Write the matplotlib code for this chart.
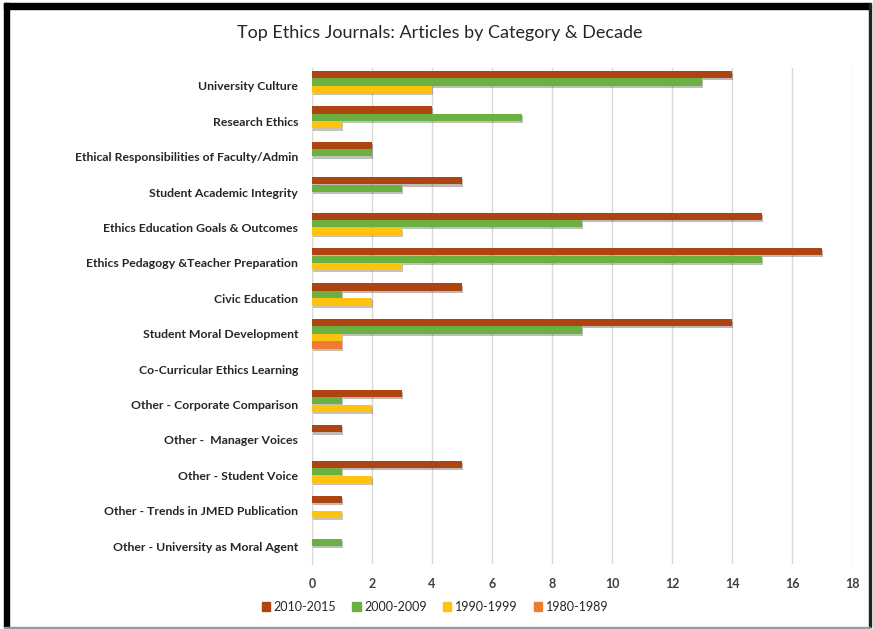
import numpy as np
import matplotlib
matplotlib.use("Agg")
import matplotlib.pyplot as plt
import matplotlib.patheffects as pe
from matplotlib.patches import Rectangle, Patch

plt.rcParams['font.family'] = ['Lato', 'DejaVu Sans']

categories = [
    "University Culture",
    "Research Ethics",
    "Ethical Responsibilities of Faculty/Admin",
    "Student Academic Integrity",
    "Ethics Education Goals & Outcomes",
    "Ethics Pedagogy &Teacher Preparation",
    "Civic Education",
    "Student Moral Development",
    "Co-Curricular Ethics Learning",
    "Other - Corporate Comparison",
    "Other -  Manager Voices",
    "Other - Student Voice",
    "Other - Trends in JMED Publication",
    "Other - University as Moral Agent",
]
series_names = ["2010-2015", "2000-2009", "1990-1999", "1980-1989"]
s2010 = [14, 4, 2, 5, 15, 17, 5, 14, 0, 3, 1, 5, 1, 0]
s2000 = [13, 7, 2, 3, 9, 15, 1, 9, 0, 1, 0, 1, 0, 1]
s1990 = [4, 1, 0, 0, 3, 3, 2, 1, 0, 2, 0, 2, 1, 0]
s1980 = [0, 0, 0, 0, 0, 0, 0, 1, 0, 0, 0, 0, 0, 0]
x_ticks = [0, 2, 4, 6, 8, 10, 12, 14, 16, 18]

colors = ["#AE4510", "#6DB042", "#FFC20E", "#F07C32"]

fig = plt.figure(figsize=(8.73, 6.29), dpi=100)
fig.patch.set_facecolor("white")

# picture frame (thick black top/left, thin right/bottom)
fig.add_artist(Rectangle((4 / 873, 1 - 9 / 629), 866 / 873, 6 / 629,
                         transform=fig.transFigure, color="black", zorder=0))
fig.add_artist(Rectangle((4 / 873, 1 - 627 / 629), 5 / 873, 624 / 629,
                         transform=fig.transFigure, color="black", zorder=0))
fig.add_artist(Rectangle((869 / 873, 1 - 627 / 629), 1.5 / 873, 624 / 629,
                         transform=fig.transFigure, color="#222222", zorder=0))
fig.add_artist(Rectangle((4 / 873, 1 - 628 / 629), 866 / 873, 1.2 / 629,
                         transform=fig.transFigure, color="#9a9a9a", zorder=0))

ax = fig.add_axes([312 / 873, 1 - 564 / 629, 540 / 873, 496 / 629])

y = np.arange(len(categories))
slot = 0.21
bh = 0.205
shadow = [pe.SimplePatchShadow(offset=(1.0, -1.5), alpha=0.3), pe.Normal()]
for i, (name, vals) in enumerate(zip(series_names, [s2010, s2000, s1990, s1980])):
    bars = ax.barh(y + (i - 1.5) * slot, vals, height=bh, color=colors[i],
                   zorder=3)
    for b in bars:
        b.set_path_effects(shadow)

ax.set_ylim(len(categories) - 0.5, -0.5)
ax.set_xlim(0, 18)
ax.set_xticks(x_ticks)
ax.set_yticks(y)
ax.set_yticklabels(categories, fontsize=8.8, fontweight="bold", color="#262626")
ax.tick_params(axis="y", length=0, pad=10)
ax.tick_params(axis="x", length=0, pad=10, labelsize=9, labelcolor="#404040")
for lab in ax.get_xticklabels():
    lab.set_fontweight("bold")

ax.grid(axis="x", color="#D9D9D9", lw=1, zorder=0)
for s in ["top", "right", "bottom"]:
    ax.spines[s].set_visible(False)
ax.spines["left"].set_color("#D9D9D9")

fig.text(440 / 873, 1 - 33 / 629, "Top Ethics Journals: Articles by Category & Decade",
         ha="center", va="center", fontsize=13, color="#262626")

handles = [Patch(color=c, label=n) for c, n in zip(colors, series_names)]
fig.legend(handles=handles, loc="center", bbox_to_anchor=(435 / 873, 1 - 607 / 629),
           ncol=4, frameon=False, handlelength=0.65, handleheight=0.65,
           handletextpad=0.3, columnspacing=1.3,
           prop={"size": 9}, labelcolor="#262626")

fig.savefig("out.png", dpi=100)
